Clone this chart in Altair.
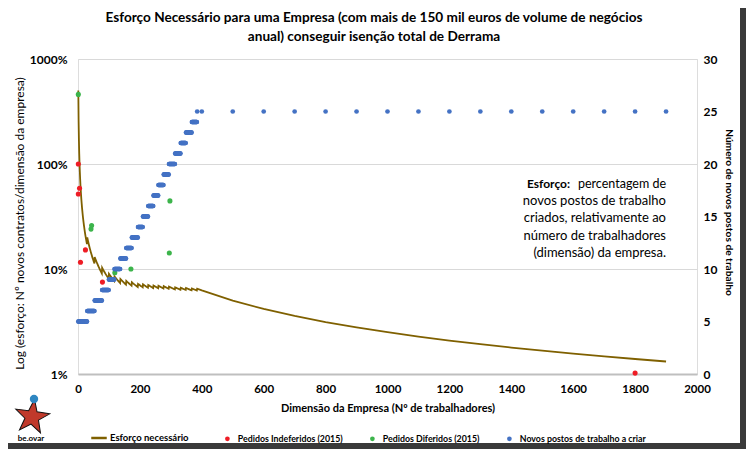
import altair as alt
import pandas as pd

# ---------------- data ----------------
# new jobs required (blue series) as a step function of company size:
job_levels = [5, 6, 7, 8, 9, 10, 11, 12, 13, 14, 15, 16, 17, 18, 19, 20, 21, 22, 23, 24, 25]
level_starts = [1, 30, 54, 78, 100, 118, 137, 156, 174, 194, 210, 227, 244, 260, 277, 294, 314, 332, 349, 368, 385]
dense_sizes = list(range(1, 385))
sparse_sizes = [385, 400, 500, 600, 700, 800, 900, 1000, 1100, 1200, 1300, 1400, 1500, 1600, 1700, 1800, 1900]

red_size = [1, 5, 1, 8, 24, 79, 1800]
red_pct = [100, 58.7, 51.8, 11.6, 15.2, 7.5, 1.02]

green_size = [1, 42, 44, 119, 171, 295, 297]
green_pct = [460, 24, 26, 9.2, 10, 14.2, 44.5]

x_ticks = [0, 200, 400, 600, 800, 1000, 1200, 1400, 1600, 1800, 2000]
left_ticks = [1, 10, 100, 1000]
right_ticks = [0, 5, 10, 15, 20, 25, 30]

S_LINE = "Esforço necessário"
S_RED = "Pedidos Indeferidos (2015)"
S_GREEN = "Pedidos Diferidos (2015)"
S_BLUE = "Novos postos de trabalho a criar"

title_lines = ["Esforço Necessário para uma Empresa (com mais de 150 mil euros de volume de negócios",
               "anual) conseguir isenção total de Derrama"]
note_head = "Esforço:"
note_first = "percentagem de"
note_rest = ["novos postos de trabalho", "criados, relativamente ao",
             "número de trabalhadores", "(dimensão) da empresa."]

# ---------------- tables ----------------
def jobs_for(n):
    j = job_levels[0]
    for lv, st in zip(job_levels, level_starts):
        if n >= st:
            j = lv
    return j

sizes = dense_sizes + sparse_sizes
jobs = [jobs_for(n) for n in sizes]
df_blue = pd.DataFrame({"size": sizes, "jobs": jobs, "serie": S_BLUE})
df_line = pd.DataFrame({"size": sizes, "effort": [100.0 * j / n for j, n in zip(jobs, sizes)], "serie": S_LINE})
df_pts = pd.concat([
    pd.DataFrame({"size": red_size, "effort": red_pct, "serie": S_RED}),
    pd.DataFrame({"size": green_size, "effort": green_pct, "serie": S_GREEN}),
])

FONT = "Lato"
x_scale = alt.Scale(domain=[0, 2000], nice=False, zero=False)
y_left = alt.Scale(type="log", domain=[1, 1000], nice=False)
y_right = alt.Scale(domain=[0, 30], nice=False)

fill_scale = alt.Scale(domain=[S_RED, S_GREEN, S_BLUE], range=["#ee1c25", "#3cb44b", "#4472c4"])
stroke_scale = alt.Scale(domain=[S_LINE], range=["#7f6000"])

x_enc = alt.X("size:Q", scale=x_scale,
              axis=alt.Axis(values=x_ticks, format="d", title="Dimensão da Empresa (Nº de trabalhadores)",
                            grid=False, ticks=False, tickSize=0, labelPadding=9, titlePadding=8,
                            labelFlush=False, labelOverlap=False,
                            domainColor="#bfbfbf", domainWidth=2, labelFontWeight="bold", labelFontSize=11.5,
                            labelColor="#000", titleFontSize=11, titleFontWeight="bold", titleColor="#000",
                            labelFont=FONT, titleFont=FONT))

line = alt.Chart(df_line).mark_line(strokeWidth=1.8, interpolate="linear").encode(
    x=x_enc,
    y=alt.Y("effort:Q", scale=y_left,
            axis=alt.Axis(values=left_ticks, labelExpr="datum.value + '%'",
                          title="Log (esforço: Nº novos contratos/dimensão da empresa)",
                          grid=True, gridColor="#d9d9d9", gridWidth=1, domain=False, ticks=False, tickSize=0,
                          labelPadding=11, labelFontWeight="bold", labelFontSize=12, labelFlush=False,
                          labelColor="#000", titleFontSize=12, titleFontWeight="normal", titleColor="#000",
                          titleX=-59, titleY=164, titleAngle=270, titleAlign="center", titleBaseline="middle",
                          labelFont=FONT, titleFont=FONT)),
    stroke=alt.Stroke("serie:N", scale=stroke_scale,
                      legend=alt.Legend(orient="none", legendX=12, legendY=370, title=None,
                                        symbolType="stroke", symbolSize=240, symbolStrokeWidth=2.5,
                                        labelFont=FONT, labelFontSize=9.5, labelFontWeight="bold",
                                        labelColor="#000", labelOffset=2)),
)

pts = alt.Chart(df_pts).mark_point(filled=True, size=26, opacity=1).encode(
    x=alt.X("size:Q", scale=x_scale),
    y=alt.Y("effort:Q", scale=y_left),
    fill=alt.Fill("serie:N", scale=fill_scale,
                  legend=alt.Legend(orient="none", legendX=145, legendY=375, title=None, direction="horizontal",
                                    symbolType="circle", symbolSize=22, columnPadding=25, labelLimit=300,
                                    labelFont=FONT, labelFontSize=8.8, labelFontWeight="bold",
                                    labelColor="#000", labelOffset=6)),
)

left = alt.layer(line, pts)

blue = alt.Chart(df_blue).mark_point(filled=True, size=22, opacity=1, shape="circle").encode(
    x=alt.X("size:Q", scale=x_scale),
    y=alt.Y("jobs:Q", scale=y_right,
            axis=alt.Axis(orient="right", values=right_ticks, title="Número de novos postos de trabalho",
                          grid=False, domain=False, ticks=False, tickSize=0, labelPadding=6, labelFlush=False,
                          labelFontWeight="bold", labelFontSize=12, labelColor="#000",
                          titleFontSize=10.2, titleFontWeight="bold", titleColor="#000",
                          titleX=31, titleY=153, titleAngle=90, titleAlign="center", titleBaseline="middle",
                          labelFont=FONT, titleFont=FONT)),
    fill=alt.Fill("serie:N", scale=fill_scale),
)

one = pd.DataFrame({"a": [0]})
title_txt = alt.Chart(one).mark_text(align="center", baseline="middle", font=FONT, fontSize=13.6,
                                     fontWeight="bold", color="#000", lineHeight=19).encode(
    x=alt.value(296), y=alt.value(-41), text=alt.value(title_lines))
note_bold = alt.Chart(one).mark_text(align="left", baseline="middle", font=FONT, fontSize=12,
                                     fontWeight="bold", color="#000").encode(
    x=alt.value(449), y=alt.value(125), text=alt.value(note_head))
note_line1 = alt.Chart(one).mark_text(align="right", baseline="middle", font=FONT, fontSize=12.5,
                                      color="#000").encode(
    x=alt.value(588), y=alt.value(125), text=alt.value(note_first))
note_body = alt.Chart(one).mark_text(align="right", baseline="middle", font=FONT, fontSize=13,
                                     lineHeight=17.2, color="#000").encode(
    x=alt.value(588), y=alt.value(142.2), text=alt.value(note_rest))

star_path = ("M0,-1 L0.235,-0.324 L0.951,-0.309 L0.380,0.124 L0.588,0.809 L0,0.4 "
             "L-0.588,0.809 L-0.380,0.124 L-0.951,-0.309 L-0.235,-0.324 Z")
logo_star = alt.Chart(one).mark_point(shape=star_path, filled=True, fill="#c0392b", stroke="#111",
                                      strokeWidth=1, size=1300, opacity=1, angle=8).encode(
    x=alt.value(-46), y=alt.value(358))
logo_head = alt.Chart(one).mark_point(shape="circle", filled=True, fill="#2e86c1", size=70, opacity=1).encode(
    x=alt.value(-44), y=alt.value(340))
logo_txt = alt.Chart(one).mark_text(font=FONT, fontSize=8, fontWeight="bold", color="#000").encode(
    x=alt.value(-47), y=alt.value(380), text=alt.value("be.ovar"))

frame_r = alt.Chart(one).mark_rect(color="#3a3a3a").encode(
    x=alt.value(662), x2=alt.value(668), y=alt.value(-55), y2=alt.value(390))
frame_b = alt.Chart(one).mark_rect(color="#3a3a3a").encode(
    x=alt.value(-74), x2=alt.value(668), y=alt.value(384), y2=alt.value(390))

chart = alt.layer(left, blue, title_txt, note_bold, note_line1, note_body, logo_star, logo_head, logo_txt,
                  frame_r, frame_b).resolve_scale(
    y="independent"
).properties(
    width=619, height=315,
    autosize=alt.AutoSizeParams(type="none"),
    padding={"left": 70, "top": 51, "right": 49, "bottom": 75},
).configure_view(stroke=None).configure(background="white")

chart.save("out.html", embed_options={"renderer": "svg", "actions": False})
